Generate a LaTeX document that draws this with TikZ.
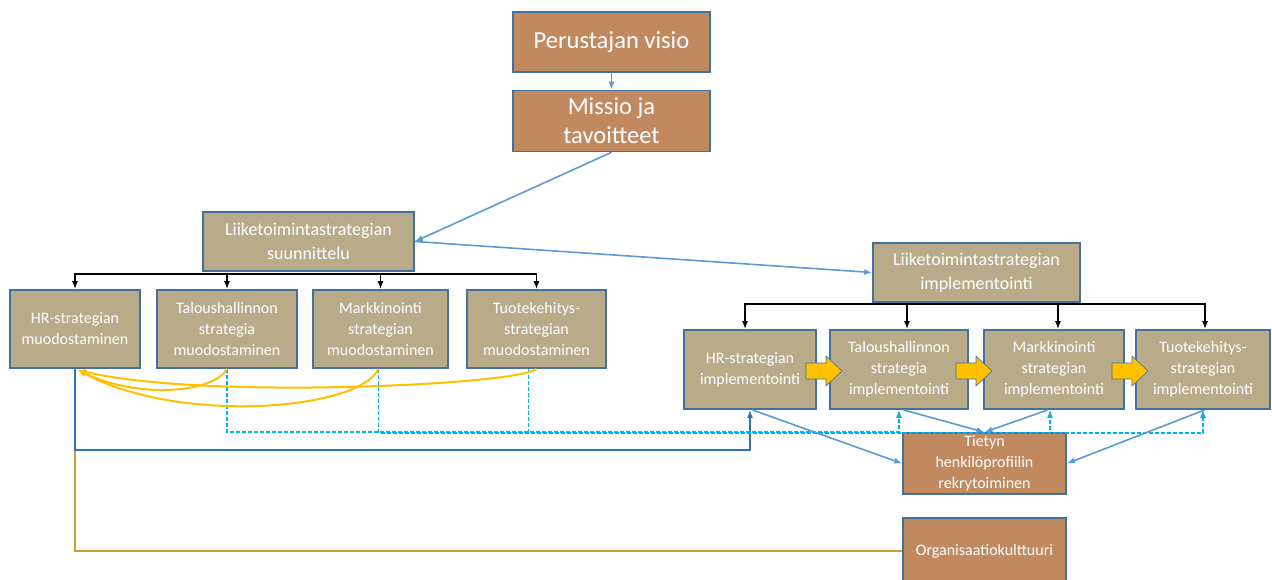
\documentclass[tikz,border=0pt]{standalone}
\usepackage{fontspec}
\setmainfont{Carlito}
\usetikzlibrary{arrows.meta}
\definecolor{brownbox}{HTML}{C08960}
\definecolor{tanbox}{HTML}{B9AA8A}
\definecolor{boxline}{HTML}{41719C}
\definecolor{flowblue}{HTML}{5B9BD5}
\definecolor{linkblue}{HTML}{00B0F0}
\definecolor{hrblue}{HTML}{2E75B6}
\definecolor{culture}{HTML}{C9A227}
\definecolor{amber}{HTML}{FFC000}
\newcommand{\fsz}[2]{\fontsize{#1}{#2}\selectfont}
\tikzset{
  card/.style={draw=boxline, line width=1.6pt, text=white, align=center, inner sep=0pt},
  topcard/.style={card, fill=brownbox, font=\fsz{24.5}{29}},
  headcard/.style={card, fill=tanbox, font=\fsz{18}{24}},
  subcard/.style={card, fill=tanbox, font=\fsz{16}{21}, minimum height=78pt},
  hirecard/.style={card, fill=brownbox, font=\fsz{16}{21}},
  tree/.style={draw=black, line width=1.6pt, -{Latex[length=8pt,width=6pt]}},
  flow/.style={draw=flowblue, line width=1.6pt, -{Latex[length=8pt,width=6pt]}},
  link/.style={draw=linkblue, line width=1.5pt, dashed, dash pattern=on 4pt off 2pt, -{Latex[length=8pt,width=6pt]}},
  hrline/.style={draw=hrblue, line width=1.8pt, -{Latex[length=8pt,width=6pt]}},
  cultline/.style={draw=culture, line width=1.8pt},
  feedback/.style={draw=amber, line width=2pt, -{Latex[length=8pt,width=7pt]}},
  blockarrow/.style={fill=amber, draw=boxline, line width=0.6pt},
}
\newcommand{\blockarrow}[1]{\path[blockarrow] (#1) ++(-18,-8) -- ++(20,0) -- ++(0,-7) -- ++(16,15) -- ++(-16,15) -- ++(0,-7) -- ++(-20,0) -- cycle;}
\begin{document}
\begin{tikzpicture}[x=1pt,y=-1pt]
\useasboundingbox (0,0) rectangle (1272,580);
\fill[white] (0,0) rectangle (1272,580);

% top of the hierarchy
\node[topcard, minimum width=197pt, minimum height=60pt] (visio) at (611.5,42) {Perustajan visio};
\node[topcard, minimum width=197pt, minimum height=61pt] (missio) at (611.5,121) {Missio ja\\tavoitteet};

% strategy planning and implementation
\node[headcard, minimum width=211pt, minimum height=59pt] (suun) at (308.5,241.5) {Liiketoimintastrategian\\suunnittelu};
\node[headcard, minimum width=207pt, minimum height=59pt] (impl) at (976.5,272.5) {Liiketoimintastrategian\\implementointi};

% planning row
\node[subcard, minimum width=130pt] (hr1) at (75,329) {HR-strategian\\muodostaminen};
\node[subcard, minimum width=140pt] (ta1) at (227,329) {Taloushallinnon\\strategia\\muodostaminen};
\node[subcard, minimum width=135pt] (ma1) at (380.5,329) {Markkinointi\\strategian\\muodostaminen};
\node[subcard, minimum width=139pt] (tu1) at (536.5,329) {Tuotekehitys-\\strategian\\muodostaminen};

% implementation row
\node[subcard, minimum width=132pt, minimum height=79pt] (hr2) at (750,369.5) {HR-strategian\\implementointi};
\node[subcard, minimum width=138pt, minimum height=79pt] (ta2) at (899,369.5) {Taloushallinnon\\strategia\\implementointi};
\node[subcard, minimum width=140pt, minimum height=79pt] (ma2) at (1054,369.5) {Markkinointi\\strategian\\implementointi};
\node[subcard, minimum width=134pt, minimum height=79pt] (tu2) at (1203,369.5) {Tuotekehitys-\\strategian\\implementointi};

% recruiting and culture
\node[hirecard, minimum width=163pt, minimum height=61pt] (tiet) at (984.5,463.5) {Tietyn\\henkilöprofiilin\\rekrytoiminen};
\node[hirecard, minimum width=163pt, minimum height=66pt] (org) at (984.5,551) {Organisaatiokulttuuri};

% main flow
\draw[flow] (visio.south) -- (missio.north);
\draw[flow] (missio.south) -- (suun.east);
\draw[flow] (suun.east) -- (impl.west);

% planning tree
\draw[tree] (suun.south) ++(0,2) -| (hr1.north);
\draw[tree] (suun.south) ++(0,2) -| (ta1.north);
\draw[tree] (suun.south) ++(0,2) -| (ma1.north);
\draw[tree] (suun.south) ++(0,2) -| (tu1.north);

% implementation tree
\draw[tree] (impl.south) ++(0,1) -| ([xshift=-5pt]hr2.north);
\draw[tree] (impl.south) ++(0,1) -| ([xshift=8pt]ta2.north);
\draw[tree] (impl.south) ++(0,1) -| ([xshift=4pt]ma2.north);
\draw[tree] (impl.south) ++(0,1) -| ([xshift=2pt]tu2.north);

% culture feeds the HR strategy
\draw[cultline] (org.west) -| (hr1.south);
\draw[hrline] (hr1.south) -- ++(0,81) -| (hr2.south);

% planning links to implementation
\draw[link] (ta1.south) -- ++(0,63) -| (ta2.south);
\draw[link] ([xshift=-2pt]ma1.south) -- ++(0,64) -| ([xshift=-4pt]ma2.south);
\draw[link] ([xshift=-8pt]tu1.south) -- ++(0,64) -| (tu2.south);

% implementation feeds recruiting
\draw[flow] ([xshift=2pt]hr2.south) -- (tiet.west);
\draw[flow] ([xshift=4pt]ta2.south) -- (tiet.north);
\draw[flow] ([xshift=-6pt]ma2.south) -- (tiet.north);
\draw[flow] ([xshift=2pt]tu2.south) -- (tiet.east);

% feedback from the other strategies to HR
\coordinate (ytip) at (78,370);
\draw[feedback] (ta1.south) .. controls (215,392) and (140,400) .. (ytip);
\draw[feedback] ([xshift=-2pt]ma1.south) .. controls (360,410) and (180,425) .. (ytip);
\draw[feedback] (tu1.south) .. controls (520,385) and (200,400) .. (ytip);

% sequence of implementation
\blockarrow{824,371}
\blockarrow{974,371}
\blockarrow{1130,371}
\end{tikzpicture}
\end{document}
